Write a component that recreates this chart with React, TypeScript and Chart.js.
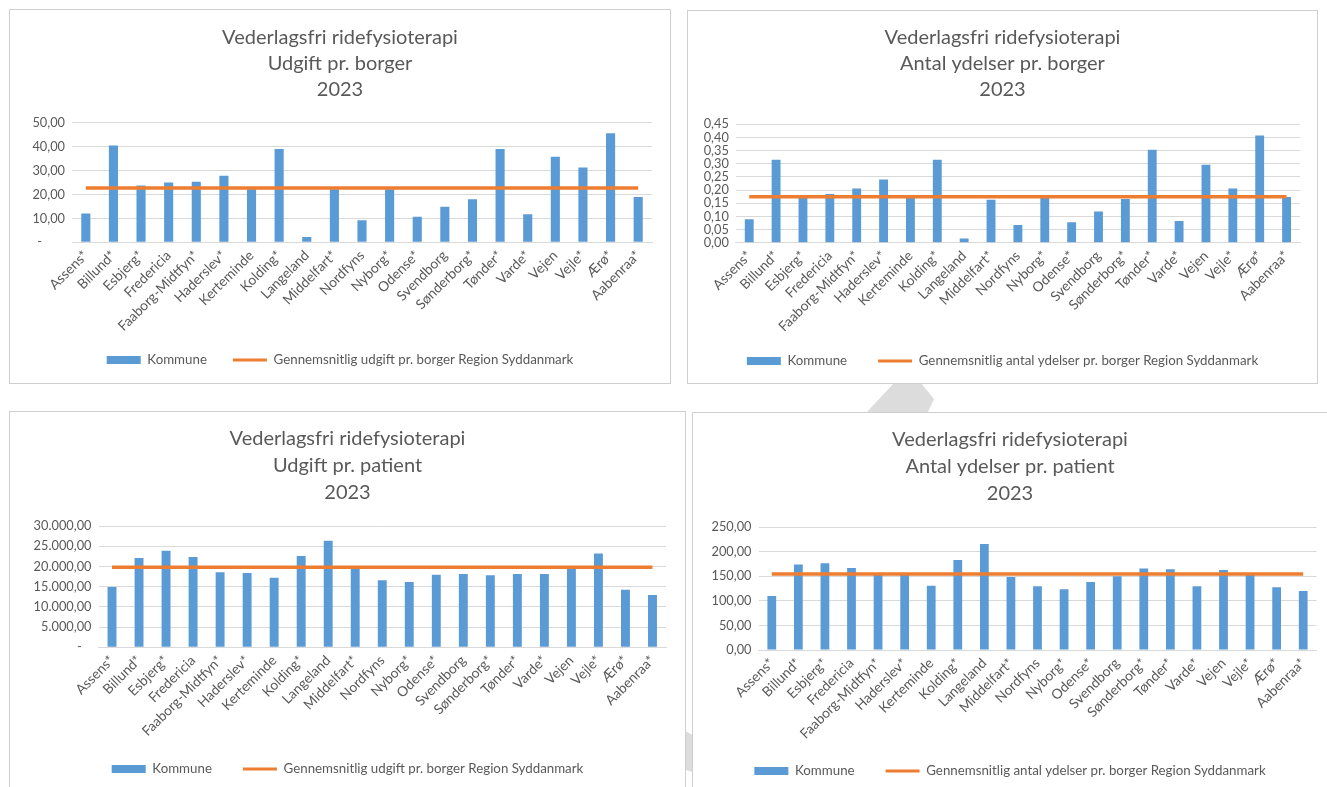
import React, { useEffect, useRef } from 'react';
import { Chart, registerables } from 'chart.js';

Chart.register(...registerables);

// ---------------- data ----------------
const categories = [
  'Assens*', 'Billund*', 'Esbjerg*', 'Fredericia', 'Faaborg-Midtfyn*', 'Haderslev*', 'Kerteminde',
  'Kolding*', 'Langeland', 'Middelfart*', 'Nordfyns', 'Nyborg*', 'Odense*', 'Svendborg',
  'Sønderborg*', 'Tønder*', 'Varde*', 'Vejen', 'Vejle*', 'Ærø*', 'Aabenraa*',
];

const titleMain = 'Vederlagsfri ridefysioterapi';
const titleYear = '2023';
const legendKommune = 'Kommune';

// Udgift pr. borger
const udgiftPrBorger = [12.0, 40.5, 23.7, 25.0, 25.3, 27.8, 22.2, 39.0, 2.2, 22.2, 9.2, 22.2, 10.7, 14.9, 18.0, 39.0, 11.7, 35.8, 31.3, 45.6, 18.9];
const gnsUdgiftPrBorger = [22.7, 22.7, 22.7, 22.7, 22.7, 22.7, 22.7, 22.7, 22.7, 22.7, 22.7, 22.7, 22.7, 22.7, 22.7, 22.7, 22.7, 22.7, 22.7, 22.7, 22.7];

// Antal ydelser pr. borger
const ydelserPrBorger = [0.089, 0.315, 0.175, 0.185, 0.206, 0.240, 0.172, 0.315, 0.016, 0.163, 0.067, 0.176, 0.078, 0.119, 0.166, 0.353, 0.082, 0.296, 0.206, 0.407, 0.174];
const gnsYdelserPrBorger = [0.175, 0.175, 0.175, 0.175, 0.175, 0.175, 0.175, 0.175, 0.175, 0.175, 0.175, 0.175, 0.175, 0.175, 0.175, 0.175, 0.175, 0.175, 0.175, 0.175, 0.175];

// Udgift pr. patient
const udgiftPrPatient = [14920, 22090, 23900, 22340, 18550, 18380, 17230, 22590, 26380, 19600, 16570, 16160, 17970, 18140, 17810, 18140, 18140, 19600, 23170, 14260, 12940];
const gnsUdgiftPrPatient = [19790, 19790, 19790, 19790, 19790, 19790, 19790, 19790, 19790, 19790, 19790, 19790, 19790, 19790, 19790, 19790, 19790, 19790, 19790, 19790, 19790];

// Antal ydelser pr. patient
const ydelserPrPatient = [109.8, 173.6, 176.3, 166.8, 154, 154, 130.8, 183.1, 215.6, 148.5, 129.5, 123.4, 138.3, 149.8, 165.4, 164.1, 129.5, 162.7, 155.5, 127.5, 120.0];
const gnsYdelserPrPatient = [154.6, 154.6, 154.6, 154.6, 154.6, 154.6, 154.6, 154.6, 154.6, 154.6, 154.6, 154.6, 154.6, 154.6, 154.6, 154.6, 154.6, 154.6, 154.6, 154.6, 154.6];

// y-axis ranges (min, max, step)
const axisUdgiftPrBorger = [0, 50, 10];
const axisYdelserPrBorger = [0, 0.45, 0.05];
const axisUdgiftPrPatient = [0, 30000, 5000];
const axisYdelserPrPatient = [0, 250, 50];

// ---------------- style ----------------
const BLUE = '#5B9BD5';
const ORANGE = '#ED7D31';
const TEXT = '#595959';
const GRID = '#D9D9D9';
const FONT_FAMILY = 'Lato';
const FONT = 13.3;
const XFONT = 13.8;
const YFONT = 12.8;
const TITLE_FONT = 20;
const NB = '\u00A0';

Chart.defaults.font.family = FONT_FAMILY;

function fmtDa(v: number, zeroText: string) {
  if (Math.abs(v) < 1e-9) return zeroText;
  const [i, d] = v.toFixed(2).split('.');
  return i.replace(/\B(?=(\d{3})+(?!\d))/g, '.') + ',' + d;
}

type Spec = {
  box: { left: number; top: number; width: number; height: number };
  plot: { left: number; right: number; top: number; bottom: number };
  titleY: number;
  titleLH: number;
  legendY: number;
  legendPad: number;
  subtitle: string;
  legend: string;
  values: number[];
  average: number[];
  axis: number[];
  zeroText: string;
};

const specs: Spec[] = [
  {
    box: { left: 9, top: 9, width: 662, height: 375 },
    plot: { left: 72, right: 652, top: 122.7, bottom: 242.3 },
    titleY: 38, titleLH: 26, legendY: 360, legendPad: 26,
    subtitle: 'Udgift pr. borger',
    legend: 'Gennemsnitlig udgift pr. borger Region Syddanmark',
    values: udgiftPrBorger, average: gnsUdgiftPrBorger, axis: axisUdgiftPrBorger,
    zeroText: '-' + NB.repeat(7),
  },
  {
    box: { left: 687, top: 10, width: 631, height: 374 },
    plot: { left: 735.8, right: 1300, top: 124.3, bottom: 242.7 },
    titleY: 38, titleLH: 26, legendY: 361, legendPad: 31,
    subtitle: 'Antal ydelser pr. borger',
    legend: 'Gennemsnitlig antal ydelser pr. borger Region Syddanmark',
    values: ydelserPrBorger, average: gnsYdelserPrBorger, axis: axisYdelserPrBorger,
    zeroText: '0,00',
  },
  {
    box: { left: 9, top: 411, width: 677, height: 382 },
    plot: { left: 98.5, right: 666, top: 526, bottom: 647.3 },
    titleY: 439, titleLH: 27, legendY: 769, legendPad: 31,
    subtitle: 'Udgift pr. patient',
    legend: 'Gennemsnitlig udgift pr. borger Region Syddanmark',
    values: udgiftPrPatient, average: gnsUdgiftPrPatient, axis: axisUdgiftPrPatient,
    zeroText: '-' + NB.repeat(3),
  },
  {
    box: { left: 692, top: 412, width: 636, height: 383 },
    plot: { left: 758.5, right: 1316.5, top: 527, bottom: 650 },
    titleY: 440, titleLH: 27, legendY: 771, legendPad: 31,
    subtitle: 'Antal ydelser pr. patient',
    legend: 'Gennemsnitlig antal ydelser pr. borger Region Syddanmark',
    values: ydelserPrPatient, average: gnsYdelserPrPatient, axis: axisYdelserPrPatient,
    zeroText: '0,00',
  },
];

function buildConfig(spec: Spec): any {
  const ox = spec.box.left + 1;
  const oy = spec.box.top + 1;
  const cw = spec.box.width - 2;
  const ch = spec.box.height - 2;
  const plotL = spec.plot.left - ox;
  const rightW = cw - (spec.plot.right - ox);
  const plotT = spec.plot.top - oy;
  const plotB = spec.plot.bottom - oy;
  const titleTop = spec.titleY - oy - spec.titleLH / 2;
  const titlePadBottom = plotT - titleTop - 3 * spec.titleLH;
  const lp = spec.legendPad;
  const legendTop = spec.legendY - oy - lp - FONT / 2;
  const legendH = FONT + lp + 10;
  const layoutBottom = ch - legendTop - legendH;
  const xH = legendTop - plotB;

  return {
    type: 'bar',
    data: {
      labels: categories,
      datasets: [
        {
          type: 'bar',
          label: legendKommune,
          data: spec.values,
          backgroundColor: BLUE,
          borderWidth: 0,
          barPercentage: 0.33,
          categoryPercentage: 1,
          order: 1,
          yAxisID: 'y',
        },
        {
          type: 'line',
          label: spec.legend,
          data: spec.average,
          borderColor: ORANGE,
          backgroundColor: ORANGE,
          borderWidth: 3.5,
          pointRadius: 0,
          fill: false,
          tension: 0,
          order: 0,
          yAxisID: 'y',
        },
      ],
    },
    options: {
      responsive: false,
      animation: false,
      events: [],
      layout: { padding: { left: 0, right: 0, top: 0, bottom: layoutBottom } },
      plugins: {
        tooltip: { enabled: false },
        title: {
          display: true,
          text: [titleMain, spec.subtitle, titleYear],
          color: TEXT,
          font: { family: FONT_FAMILY, size: TITLE_FONT, weight: 'normal', lineHeight: spec.titleLH / TITLE_FONT },
          padding: { top: titleTop, bottom: titlePadBottom },
        },
        legend: {
          display: true,
          position: 'bottom',
          labels: {
            usePointStyle: true,
            pointStyleWidth: 34,
            boxHeight: 8,
            padding: lp,
            color: TEXT,
            font: { family: FONT_FAMILY, size: FONT },
            generateLabels: () => [
              { text: legendKommune, fillStyle: BLUE, strokeStyle: BLUE, lineWidth: 0, pointStyle: 'rect', hidden: false, datasetIndex: 0, fontColor: TEXT },
              { text: spec.legend, fillStyle: ORANGE, strokeStyle: ORANGE, lineWidth: 3, pointStyle: 'line', hidden: false, datasetIndex: 1, fontColor: TEXT },
            ],
          },
        },
      },
      scales: {
        x: {
          type: 'category',
          offset: true,
          grid: { display: false, drawTicks: false },
          border: { display: true, color: GRID },
          ticks: {
            color: TEXT,
            font: { family: FONT_FAMILY, size: XFONT },
            minRotation: 45,
            maxRotation: 45,
            autoSkip: false,
            padding: 5,
          },
          afterFit: (s: any) => {
            s.height = xH;
            s._computeLabelArea = () => undefined;
          },
        },
        y: {
          type: 'linear',
          position: 'left',
          min: spec.axis[0],
          max: spec.axis[1],
          grid: { color: GRID, lineWidth: 1, drawTicks: false },
          border: { display: false },
          ticks: {
            stepSize: spec.axis[2],
            autoSkip: false,
            color: TEXT,
            font: { family: FONT_FAMILY, size: YFONT },
            padding: 7,
            callback: (v: any) => fmtDa(Number(v), spec.zeroText),
          },
          afterFit: (s: any) => { s.width = plotL; },
        },
        yR: {
          type: 'linear',
          position: 'right',
          display: true,
          grid: { display: false, drawTicks: false },
          border: { display: false },
          ticks: { display: false },
          afterFit: (s: any) => { s.width = rightW; },
        },
      },
    },
  };
}

function Panel({ spec }: { spec: Spec }) {
  const ref = useRef<HTMLCanvasElement>(null);
  useEffect(() => {
    const chart = new Chart(ref.current as HTMLCanvasElement, buildConfig(spec));
    return () => chart.destroy();
  }, [spec]);
  const cw = spec.box.width - 2;
  const ch = spec.box.height - 2;
  return (
    <div
      style={{
        position: 'absolute',
        left: spec.box.left,
        top: spec.box.top,
        width: spec.box.width,
        height: spec.box.height,
        border: '1px solid #cfcfcf',
        boxSizing: 'border-box',
        background: '#fff',
      }}
    >
      <canvas ref={ref} width={cw} height={ch} style={{ display: 'block', width: cw, height: ch }} />
    </div>
  );
}

export default function App() {
  return (
    <div
      style={{
        position: 'absolute',
        left: 0,
        top: 0,
        width: 1327,
        height: 787,
        overflow: 'hidden',
        background: '#fff',
      }}
    >
      <div
        style={{
          position: 'absolute', left: 860, top: 380, width: 80, height: 35, background: '#dcdcdc',
          clipPath: 'polygon(7px 32px, 34px 3px, 61px 3px, 74px 19px, 68px 32px)',
        }}
      />
      <div
        style={{
          position: 'absolute', left: 682, top: 726, width: 14, height: 50, background: '#dcdcdc',
          clipPath: 'polygon(0px 3px, 14px 11px, 14px 47px, 0px 43px)',
        }}
      />
      {specs.map((s, i) => (
        <Panel key={i} spec={s} />
      ))}
    </div>
  );
}
